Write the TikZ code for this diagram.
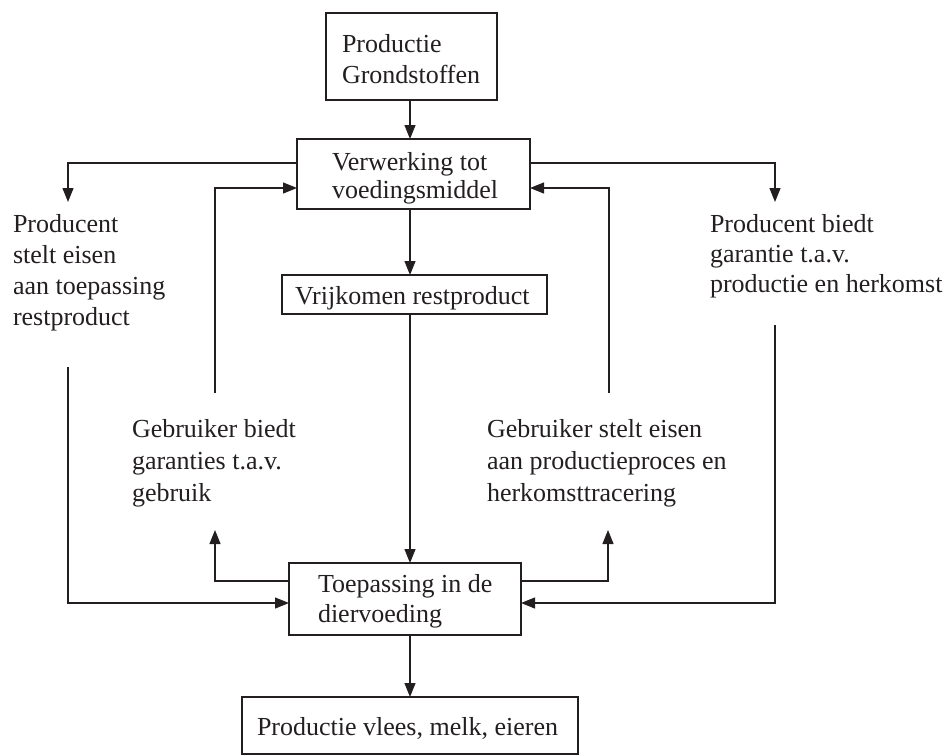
\documentclass[tikz,border=0pt]{standalone}
\usepackage{fontspec}
\setmainfont{Liberation Serif}
\usetikzlibrary{arrows.meta,positioning}
\definecolor{ink}{RGB}{35,31,32}
\tikzset{
  box/.style={draw=ink, line width=1.2pt, rectangle, inner sep=0pt, outer sep=0pt},
  txt/.style={text=ink, inner sep=0pt, outer sep=0pt, align=left, anchor=base west, font=\fontsize{26}{31}\selectfont},
  arr/.style={draw=ink, line width=1.2pt, -{Triangle[length=14pt,width=11pt]}},
  ln/.style={draw=ink, line width=1.2pt}
}
\begin{document}
\begin{tikzpicture}[x=1pt,y=-1pt]
\useasboundingbox (0,0) rectangle (951,755);
% boxes
\node[box, minimum width=171, minimum height=87] (b1) at (411.5,56.5) {};
\node[box, minimum width=233, minimum height=70] (b2) at (413.5,174) {};
\node[box, minimum width=265, minimum height=39] (b3) at (414.5,294.5) {};
\node[box, minimum width=232, minimum height=72] (b4) at (405,599) {};
\node[box, minimum width=336, minimum height=57] (b5) at (410,725.5) {};
% box texts (anchor = baseline of last line)
\node[txt] (t1) at (342,83) {Productie\\Grondstoffen};
\node[txt, font=\fontsize{26}{28}\selectfont] (t2) at (332,198) {Verwerking tot\\voedingsmiddel};
\node[txt] (t3) at (295,304) {Vrijkomen restproduct};
\node[txt, font=\fontsize{26}{30}\selectfont] (t4) at (318,622) {Toepassing in de\\diervoeding};
\node[txt] (t5) at (257,735) {Productie vlees, melk, eieren};
% free texts
\node[txt] (lp) at (13,325) {Producent\\stelt eisen\\aan toepassing\\restproduct};
\node[txt, font=\fontsize{26}{30}\selectfont] (rp) at (710,292) {Producent biedt\\garantie t.a.v.\\productie en herkomst};
\node[txt, font=\fontsize{26}{32}\selectfont] (ml) at (132,501) {Gebruiker biedt\\garanties t.a.v.\\gebruik};
\node[txt, font=\fontsize{26}{32}\selectfont] (mr) at (487,501) {Gebruiker stelt eisen\\aan productieproces en\\herkomsttracering};
% coordinates
\coordinate (c) at (410,0);
\coordinate (lo) at (68,202);
\coordinate (ro) at (775,202);
\coordinate (li) at (215,393);
\coordinate (ri) at (609,393);
\coordinate (ls) at (68,367);
\coordinate (rs) at (775,325);
\coordinate (lu) at (215,530);
\coordinate (ru) at (608,530);
% main flow
\draw[arr] (b1.south -| c) -- (b2.north -| c);
\draw[arr] (b2.south -| c) -- (b3.north -| c);
\draw[arr] (b3.south -| c) -- (b4.north -| c);
\draw[arr] (b4.south -| c) -- (b5.north -| c);
% upper side connectors
\draw[arr] ([yshift=11pt]b2.west) -| (lo);
\draw[arr] ([yshift=11pt]b2.east) -| (ro);
\draw[arr] (li) |- ([yshift=-14pt]b2.west);
\draw[arr] (ri) |- ([yshift=-14pt]b2.east);
% lower side connectors
\draw[arr] (ls) |- ([yshift=-4pt]b4.west);
\draw[arr] (rs) |- ([yshift=-4pt]b4.east);
\draw[arr] ([yshift=18pt]b4.west) -| (lu);
\draw[arr] ([yshift=18pt]b4.east) -| (ru);
\end{tikzpicture}
\end{document}
